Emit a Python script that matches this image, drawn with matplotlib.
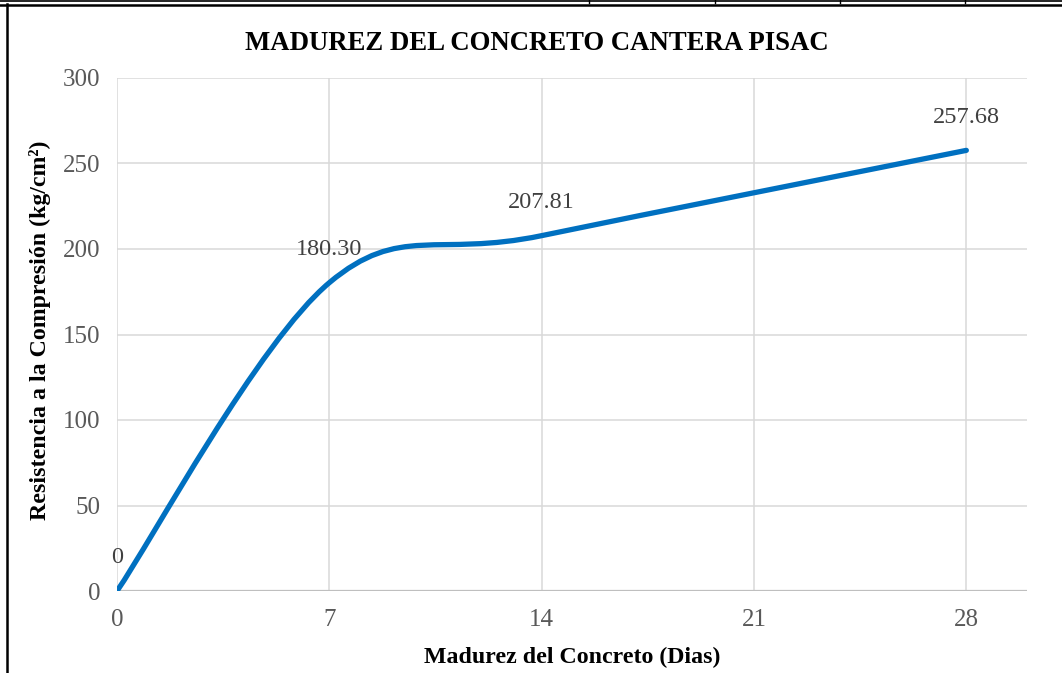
import numpy as np
import matplotlib
matplotlib.use("Agg")
import matplotlib.pyplot as plt
from matplotlib.path import Path
from matplotlib.lines import Line2D
import matplotlib.patches as patches

dias = [0, 7, 14, 28]
resistencia = [0.0, 180.30, 207.81, 257.68]
etiquetas = ["0", "180.30", "207.81", "257.68"]
x_ticks = [0, 7, 14, 21, 28]
y_ticks = [0, 50, 100, 150, 200, 250, 300]

plt.rcParams['font.family'] = ['Liberation Serif', 'DejaVu Serif']

W, H = 1062, 673
fig = plt.figure(figsize=(W / 100, H / 100), dpi=100)

def fx(px):
	return px / W

def fy(py):
	return 1 - py / H

ax = fig.add_axes([fx(117), fy(591), fx(1027) - fx(117), fy(78) - fy(591)])
ax.set_xlim(0, 30)
ax.set_ylim(0, 300)

# grid
for t in x_ticks:
	ax.axvline(t, color='#D9D9D9', lw=1.1, zorder=1)
for t in y_ticks[1:]:
	ax.axhline(t, color='#D9D9D9', lw=1.1, zorder=1)
ax.axhline(0, color='#BFBFBF', lw=1.6, zorder=1)
for s in ax.spines.values():
	s.set_visible(False)

ax.set_xticks(x_ticks)
ax.set_yticks(y_ticks)
ax.tick_params(length=0, labelsize=18, labelcolor='#595959', pad=12)
ax.tick_params(axis='x', pad=13)

# smoothed line (bezier segments, catmull-rom style control points)
pts = np.column_stack([dias, resistencia])
verts = [tuple(pts[0])]
codes = [Path.MOVETO]
n = len(pts)
for i in range(n - 1):
	p_prev = pts[i - 1] if i > 0 else pts[i]
	p_next2 = pts[i + 2] if i + 2 < n else pts[i + 1]
	c1 = pts[i] + (pts[i + 1] - p_prev) / 6.0
	c2 = pts[i + 1] - (p_next2 - pts[i]) / 6.0
	verts += [tuple(c1), tuple(c2), tuple(pts[i + 1])]
	codes += [Path.CURVE4] * 3
curva = patches.PathPatch(Path(verts, codes), fill=False, edgecolor='#0070C0', lw=3.8, capstyle='round', zorder=3)
ax.add_patch(curva)

for xv, yv, lab in zip(dias, resistencia, etiquetas):
	ax.annotate(lab, (xv, yv), xytext=(0, 24), textcoords='offset points', ha='center', va='center',
		fontsize=17.5, color='#404040', zorder=4)

fig.text(fx(537), fy(44), "MADUREZ DEL CONCRETO CANTERA PISAC", ha='center', va='center',
	fontsize=19.3, fontweight='bold')
fig.text(fx(572), fy(657), "Madurez del Concreto (Dias)", ha='center', va='center',
	fontsize=17.2, fontweight='bold')
fig.text(fx(40), fy(330), "Resistencia a la Compresión (kg/cm²)", ha='center', va='center',
	rotation=90, fontsize=17.2, fontweight='bold')

# page frame lines
fig.add_artist(Line2D([0, 1], [fy(1), fy(1)], color='black', lw=1.2))
fig.add_artist(Line2D([0, 1], [fy(4.5), fy(4.5)], color='black', lw=1.8))
fig.add_artist(Line2D([fx(7), fx(7)], [fy(4), 0], color='black', lw=1.8))
for px in [589, 715, 840, 965]:
	fig.add_artist(Line2D([fx(px), fx(px)], [1, fy(3)], color='black', lw=1.0))

fig.savefig("out.png", dpi=100)
